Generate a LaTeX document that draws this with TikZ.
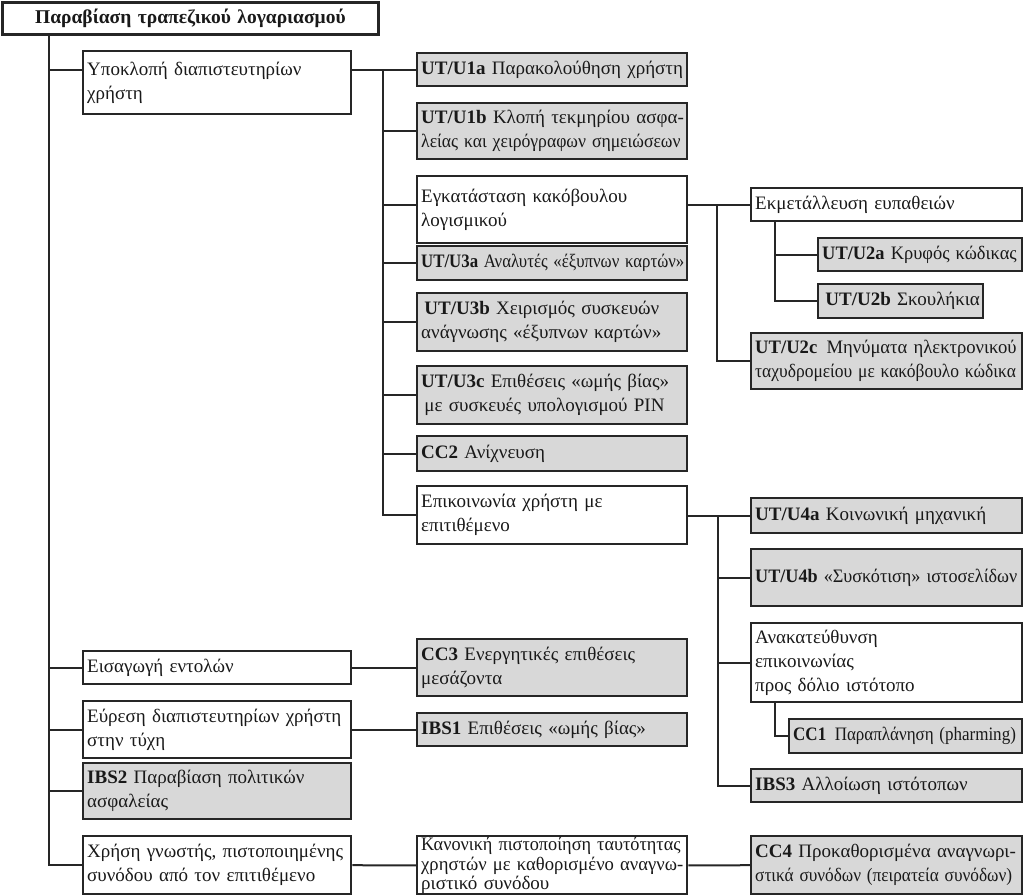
\documentclass[tikz,border=0pt]{standalone}
\usepackage{fontspec}
\usepackage{graphicx}
\setmainfont{Liberation Serif}
\definecolor{linec}{RGB}{38,38,38}
\definecolor{fillg}{RGB}{216,216,216}
\newcommand\sqz[2]{\scalebox{#1}[1]{#2}}
\tikzset{
  bx/.style={draw=linec, line width=2.4pt, fill=white, anchor=north west,
    inner xsep=4pt, inner ysep=1pt, align=left, text=black!90,
    font=\fontsize{19}{24}\selectfont},
  gb/.style={bx, fill=fillg},
  sz/.style n args={3}{minimum width=#1, text width=#2, minimum height=#3},
  conn/.style={draw=linec, line width=2pt}
}
\begin{document}
\begin{tikzpicture}[x=1pt,y=-1pt]
\useasboundingbox (0,0) rectangle (1024,894);
% root
\node[bx, sz={376pt}{368pt}{32pt}, align=center, font=\fontsize{19.5}{24}\selectfont] (top) at (1.2,1.2) {\textbf{Παραβίαση τραπεζικού λογαριασμού}};
% level 1
\node[bx, sz={268pt}{260pt}{63pt}] (ypo) at (82,50) {\mbox{Υποκλοπή διαπιστευτηρίων}\\χρήστη};
\node[bx, sz={268pt}{260pt}{33pt}] (eis) at (82,650) {Εισαγωγή εντολών};
\node[bx, sz={268pt}{260pt}{57pt}] (eur) at (82,700) {\mbox{Εύρεση διαπιστευτηρίων χρήστη}\\στην τύχη};
\node[gb, sz={268pt}{260pt}{56pt}] (ibs2) at (82,762) {\mbox{\textbf{IBS2} Παραβίαση πολιτικών}\\ασφαλείας};
\node[bx, sz={268pt}{260pt}{58pt}] (xri) at (82,835) {\mbox{Χρήση γνωστής, πιστοποιημένης}\\\mbox{συνόδου από τον επιτιθέμενο}};
% level 2
\node[gb, sz={270pt}{262pt}{33pt}] (u1a) at (416,52) {\mbox{\textbf{UT/U1a} Παρακολούθηση χρήστη}};
\node[gb, sz={270pt}{262pt}{56pt}] (u1b) at (416,102) {\mbox{\textbf{UT/U1b} Κλοπή τεκμηρίου ασφα-}\\\sqz{0.93}{λείας και χειρόγραφων σημειώσεων}};
\node[bx, sz={270pt}{262pt}{67pt}] (egk) at (416,175) {Εγκατάσταση κακόβουλου\\λογισμικού};
\node[gb, sz={270pt}{262pt}{34pt}] (u3a) at (416,245) {\sqz{0.885}{\textbf{UT/U3a} Αναλυτές «έξυπνων καρτών»}};
\node[gb, sz={270pt}{262pt}{58pt}] (u3b) at (416,292) {\mbox{\,\textbf{UT/U3b} Χειρισμός συσκευών}\\\mbox{ανάγνωσης «έξυπνων καρτών»}};
\node[gb, sz={270pt}{262pt}{58pt}] (u3c) at (416,365) {\mbox{\textbf{UT/U3c} Επιθέσεις «ωμής βίας»}\\\mbox{\,με συσκευές υπολογισμού PIN}};
\node[gb, sz={270pt}{262pt}{35pt}] (cc2) at (416,435) {\textbf{CC2} Ανίχνευση};
\node[bx, sz={270pt}{262pt}{58pt}] (epi) at (416,485) {Επικοινωνία χρήστη με\\επιτιθέμενο};
\node[gb, sz={270pt}{262pt}{57pt}] (cc3) at (416,638) {\textbf{CC3} Ενεργητικές επιθέσεις\\μεσάζοντα};
\node[gb, sz={270pt}{262pt}{33pt}] (ibs1) at (416,712) {\textbf{IBS1} Επιθέσεις «ωμής βίας»};
\node[bx, sz={270pt}{262pt}{58pt}, font=\fontsize{19}{19.5}\selectfont] (kan) at (416,835) {\sqz{0.96}{Κανονική πιστοποίηση ταυτότητας}\\\sqz{0.98}{χρηστών με καθορισμένο αναγνω-}\\ριστικό συνόδου};
% level 3
\node[bx, sz={271pt}{263pt}{33pt}] (ekm) at (750,187) {Εκμετάλλευση ευπαθειών};
\node[gb, sz={204pt}{196pt}{33pt}] (u2a) at (817,237) {\sqz{0.97}{\textbf{UT/U2a} Κρυφός κώδικας}};
\node[gb, sz={165pt}{157pt}{34pt}] (u2b) at (817,283) {\mbox{\,\textbf{UT/U2b} Σκουλήκια}};
\node[gb, sz={271pt}{263pt}{56pt}] (u2c) at (750,332) {\sqz{0.98}{\textbf{UT/U2c}\, Μηνύματα ηλεκτρονικού}\\\sqz{0.92}{ταχυδρομείου με κακόβουλο κώδικα}};
\node[gb, sz={271pt}{263pt}{35pt}] (u4a) at (750,497) {\textbf{UT/U4a} Κοινωνική μηχανική};
\node[gb, sz={271pt}{263pt}{57pt}] (u4b) at (750,548) {\sqz{0.955}{\textbf{UT/U4b} «Συσκότιση» ιστοσελίδων}};
\node[bx, sz={271pt}{263pt}{79pt}] (ana) at (750,622) {Ανακατεύθυνση\\επικοινωνίας\\προς δόλιο ιστότοπο};
\node[gb, sz={233pt}{225pt}{34pt}] (cc1) at (788,718) {\sqz{0.895}{\textbf{CC1}\, Παραπλάνηση (pharming)}};
\node[gb, sz={271pt}{263pt}{33pt}] (ibs3) at (750,768) {\textbf{IBS3} Αλλοίωση ιστότοπων};
\node[gb, sz={271pt}{263pt}{58pt}] (cc4) at (750,835) {\mbox{\textbf{CC4} Προκαθορισμένα αναγνωρι-}\\\sqz{0.91}{στικά συνόδων (πειρατεία συνόδων)}};
% buses
\coordinate (m0) at (49,33);
\coordinate (b2) at (383,68);
\coordinate (b3) at (717,202);
\coordinate (b4) at (775,220);
\coordinate (b5) at (718,513);
\coordinate (b6) at (775,700);
% level-1 connectors
\draw[conn] (top.south -| m0) |- (xri.west);
\draw[conn] (m0 |- u1a.west) -- (ypo.west |- u1a.west);
\draw[conn] (m0 |- eis.west) -- (eis.west);
\draw[conn] (m0 |- eur.west) -- (eur.west);
\draw[conn] (m0 |- ibs2.west) -- (ibs2.west);
% level-2 connectors
\draw[conn] (ypo.east |- u1a.west) -- (u1a.west);
\draw[conn] (b2 |- u1a.west) |- (epi.west);
\draw[conn] (b2 |- u1b.west) -- (u1b.west);
\draw[conn] (b2 |- ekm.west) -- (egk.west |- ekm.west);
\draw[conn] (b2 |- u3a.west) -- (u3a.west);
\draw[conn] (b2 |- u3b.west) -- (u3b.west);
\draw[conn] (b2 |- u3c.west) -- (u3c.west);
\draw[conn] (b2 |- cc2.west) -- (cc2.west);
\draw[conn] (eis.east) -- (cc3.west);
\draw[conn] (eur.east) -- (ibs1.west);
\draw[conn] (xri.east) -- (kan.west);
\draw[conn] (kan.east) -- (cc4.west);
% malware subtree
\draw[conn] (egk.east |- ekm.west) -- (ekm.west);
\draw[conn] (b3 |- ekm.west) |- (u2c.west);
\draw[conn] (ekm.south -| b4) |- (u2b.west);
\draw[conn] (b4 |- u2a.west) -- (u2a.west);
% communication subtree
\draw[conn] (epi.east |- u4a.west) -- (u4a.west);
\draw[conn] (b5 |- u4a.west) |- (ibs3.west);
\draw[conn] (b5 |- u4b.west) -- (u4b.west);
\draw[conn] (b5 |- ana.west) -- (ana.west);
\draw[conn] (ana.south -| b6) |- (cc1.west);
\end{tikzpicture}
\end{document}
